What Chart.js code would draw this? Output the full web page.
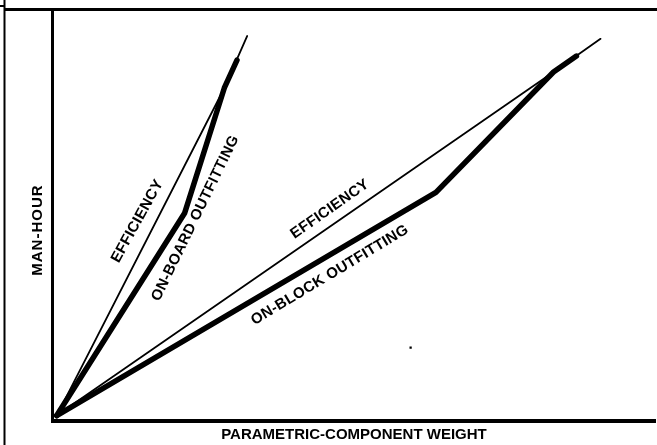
<!DOCTYPE html>
<html>
<head>
<meta charset="utf-8">
<title>Man-hour vs parametric component weight</title>
<script src="https://cdn.jsdelivr.net/npm/chart.js@4/dist/chart.umd.min.js"></script>
<style>
  html,body{margin:0;padding:0;background:#fff;}
  #wrap{width:657px;height:445px;position:relative;}
</style>
</head>
<body>
<div id="wrap"><canvas id="mhChart" width="657" height="445"></canvas></div>
<script>
// on-board outfitting: efficiency line and actual curve
const onBoardEffX=[0.7,28.5,32.3];
const onBoardEffY=[1.2,81.2,93.9];
const onBoardX=[0.7,21.9,28.5,30.6];
const onBoardY=[1.2,50.6,81.2,88.0];

// on-block outfitting: efficiency line and actual curve
const onBlockEffX=[0.7,83.1,90.9];
const onBlockEffY=[1.2,85.1,93.2];
const onBlockX=[0.7,63.6,83.1,86.9];
const onBlockY=[1.2,55.7,85.1,89.0];

// lone speck in the plot area
const markX=[59.4];
const markY=[17.8];

// curve labels
const labelTexts=["EFFICIENCY","ON-BOARD OUTFITTING","EFFICIENCY","ON-BLOCK OUTFITTING"];
const labelX=[14.1,23.7,46.0,46.0];
const labelY=[48.7,49.4,51.6,35.5];
const labelAngle=[-61,-64,-35,-31];

const yTitle="MAN-HOUR";
const FONT='"Liberation Sans", Arial, Helvetica, sans-serif';

function pts(xs,ys){ return xs.map((x,i)=>({x:x,y:ys[i]})); }

document.addEventListener("DOMContentLoaded",()=>{

  // text along the curves + vertical axis title (sits below the axis midpoint)
  const curveLabels={
    id:"curveLabels",
    afterDatasetsDraw(chart){
      const {ctx,scales:{x,y}}=chart;
      ctx.save();
      ctx.fillStyle="#000";
      ctx.font="bold 15px "+FONT;
      ctx.textAlign="center";
      ctx.textBaseline="middle";
      ctx.letterSpacing="0.3px";
      labelTexts.forEach((t,i)=>{
        ctx.save();
        ctx.translate(x.getPixelForValue(labelX[i]),y.getPixelForValue(labelY[i]));
        ctx.rotate(labelAngle[i]*Math.PI/180);
        ctx.fillText(t,0,0);
        ctx.restore();
      });
      ctx.letterSpacing="1px";
      ctx.translate(chart.chartArea.left-14.5,y.getPixelForValue(46.5));
      ctx.rotate(-Math.PI/2);
      ctx.fillText(yTitle,0,0);
      ctx.restore();
    }
  };

  // outer frame lines
  const frame={
    id:"frame",
    afterDraw(chart){
      const ctx=chart.ctx;
      ctx.save();
      ctx.strokeStyle="#000";
      ctx.lineWidth=3;
      ctx.beginPath(); ctx.moveTo(4,9.5); ctx.lineTo(657,9.5); ctx.stroke();
      ctx.lineWidth=2;
      ctx.beginPath(); ctx.moveTo(4.5,0); ctx.lineTo(4.5,445); ctx.stroke();
      ctx.beginPath(); ctx.moveTo(0,6); ctx.lineTo(5,6); ctx.stroke();
      ctx.restore();
    }
  };

  const ctx=document.getElementById("mhChart").getContext("2d");
  new Chart(ctx,{
    type:"line",
    data:{
      datasets:[
        {label:"On-board efficiency",data:pts(onBoardEffX,onBoardEffY),borderColor:"#000",borderWidth:1.8},
        {label:"On-board outfitting",data:pts(onBoardX,onBoardY),borderColor:"#000",borderWidth:5.5},
        {label:"On-block efficiency",data:pts(onBlockEffX,onBlockEffY),borderColor:"#000",borderWidth:1.8},
        {label:"On-block outfitting",data:pts(onBlockX,onBlockY),borderColor:"#000",borderWidth:5.5},
        {label:"mark",data:pts(markX,markY),showLine:false,pointRadius:1.6,pointStyle:"rect",
         backgroundColor:"#000",borderColor:"#000",borderWidth:0}
      ]
    },
    options:{
      responsive:false,
      animation:false,
      devicePixelRatio:1,
      layout:{padding:{left:52.5,top:11,right:0,bottom:0}},
      elements:{
        line:{tension:0,borderCapStyle:"round",borderJoinStyle:"round",fill:false},
        point:{radius:0,hoverRadius:0}
      },
      plugins:{legend:{display:false},tooltip:{enabled:false}},
      scales:{
        x:{
          type:"linear",min:0,max:100,
          grid:{display:false,drawTicks:false},
          ticks:{display:false},
          border:{display:true,color:"#000",width:4},
          title:{display:true,text:"PARAMETRIC-COMPONENT WEIGHT",color:"#000",
                 font:{family:FONT,size:15,weight:"bold"},padding:{top:5.5,bottom:1}}
        },
        y:{
          type:"linear",min:0,max:100,
          grid:{display:false,drawTicks:false},
          ticks:{display:false},
          border:{display:true,color:"#000",width:3}
        }
      }
    },
    plugins:[curveLabels,frame]
  });
});
</script>
</body>
</html>
